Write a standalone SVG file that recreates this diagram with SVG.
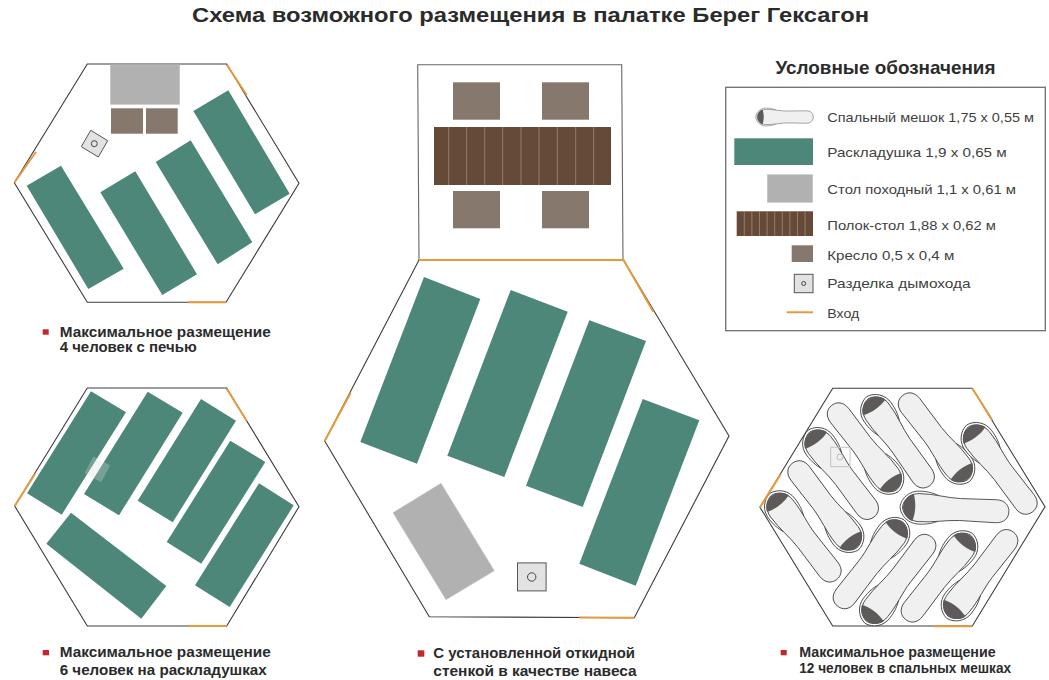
<svg xmlns="http://www.w3.org/2000/svg" xmlns:xlink="http://www.w3.org/1999/xlink" width="1049" height="680" viewBox="0 0 1049 680">
<style>
text{font-family:"Liberation Sans",Arial,sans-serif}
.title{font-size:21px;font-weight:700;fill:#2b2b2b}
.lt{font-size:19px;font-weight:700;fill:#2b2b2b}
.cap{font-size:14px;font-weight:700;fill:#2b2b2b}
.leg{font-size:13.5px;fill:#3f3f3f}
.hex{fill:#fff;stroke:#3c3c3c;stroke-width:1.1}
.door{fill:none;stroke:#e69a3c;stroke-width:2}
.cot{fill:#4c8779}
.tbl{fill:#b0b1b0;stroke:#c4c4c4;stroke-width:.6}
.ch{fill:#86786d}
.pol{fill:#664a38}
.sl{stroke:#b39d8c;stroke-width:.6}
.fl{fill:#e2e2e2;stroke:#555;stroke-width:1}
.flc{fill:none;stroke:#444;stroke-width:1}
.bul{fill:#c1272d}
.bg{fill:#f0f0f0;stroke:#333;stroke-width:.8}
.rim{fill:#fff;stroke:#333;stroke-width:.8}
.hd{fill:#5d5a59}
</style>
<defs>
<g id="bag">
<path class="rim" d="M0,0C1,-9 9,-16.5 19,-16.5C28,-16.5 33,-15 38,-13L38,13C33,15 28,16.5 19,16.5C9,16.5 1,9 0,0Z"/>
<path class="bg" d="M2.5,0C3,-7 10,-14 19,-14C34,-14.5 46,-11 60,-11L96,-11.5C105,-11.5 109,-6 109,0C109,6 105,11.5 96,11.5L60,11C46,11 34,14.5 19,14C10,14 3,7 2.5,0Z"/>
<path class="hd" d="M13,-13.7C7,-12 3,-6 3,0C3,6 7,12 13,13.7C16,5 16,-5 13,-13.7Z"/>
</g>
</defs>
<rect width="1049" height="680" fill="#fff"/>
<text class="title" x="192" y="22" textLength="677" lengthAdjust="spacingAndGlyphs">Схема возможного размещения в палатке Берег Гексагон</text>

<g id="tent-4-stove">
<polygon class="hex" points="87.3,64 226.7,64 299,183.3 226,302.3 87.3,302.3 14.3,182.7"/>
<rect class="tbl" x="110.3" y="65" width="69.4" height="39.3"/>
<rect class="ch" x="111" y="108.3" width="32" height="25.4"/>
<rect class="ch" x="146" y="108.3" width="31.7" height="25.4"/>
<polygon class="fl" points="90.7,130.3 107.7,140.7 98.3,157 81.3,146.7"/>
<circle class="flc" cx="94.3" cy="143.7" r="3"/>
<polygon class="cot" points="61,165.7 123.7,268.7 88.3,289 26.7,185.7"/>
<polygon class="cot" points="135.3,171.3 197,274.3 162.3,295 100.3,192.3"/>
<polygon class="cot" points="190.7,140.3 252.3,242.3 217.7,264.3 155.7,162"/>
<polygon class="cot" points="228.3,90.3 289.7,193.7 255,214.3 193.3,111"/>
<path class="door" d="M226.7,64.7L246.7,95M14.3,182.7L36,151.7M188.3,302.3H226"/>
<rect class="bul" x="42.7" y="329.3" width="6" height="5.4"/>
<text class="cap" x="59.7" y="336.7" textLength="211" lengthAdjust="spacingAndGlyphs">Максимальное размещение</text>
<text class="cap" x="59.7" y="351.7" textLength="137" lengthAdjust="spacingAndGlyphs">4 человек с печью</text>
</g>

<g id="tent-6-cots">
<polygon class="hex" points="87.3,388 226.7,388 299,506.7 226.7,626 87.3,626 14.7,506"/>
<polygon class="cot" points="91,391.3 126,412.3 61.7,514.7 27,493.3"/>
<polygon class="cot" points="147.7,391.7 182.7,412.7 119,515.3 84,494"/>
<polygon class="cot" points="201,399 236,420.7 172.7,522.3 137.7,500.7"/>
<polygon class="cot" points="230.3,440.7 265.3,462 201.3,563.7 166.7,542"/>
<polygon class="cot" points="259,483.3 293.7,505.3 229.7,607 195,585.3"/>
<polygon class="cot" points="71,512.7 166.3,586 141.3,618.7 46.3,543.7"/>
<g transform="translate(97.3,469.3) rotate(28)" opacity=".3"><rect x="-9" y="-9" width="18" height="18" fill="#d8d8d8" stroke="#eee" stroke-width=".8"/><circle r="3" fill="none" stroke="#eee"/></g>
<path class="door" d="M226.7,388.7L246.7,420.7M14.7,506L35,474M188.3,626H226.7"/>
<rect class="bul" x="42.7" y="650" width="6.3" height="5.3"/>
<text class="cap" x="59.7" y="657.3" textLength="211" lengthAdjust="spacingAndGlyphs">Максимальное размещение</text>
<text class="cap" x="59.7" y="675" textLength="207" lengthAdjust="spacingAndGlyphs">6 человек на раскладушках</text>
</g>

<g id="tent-awning">
<polygon class="hex" points="417.7,64.7 621.7,64.7 623,260 419,260" style="stroke:#666"/>
<polygon class="hex" points="419,260 623.5,260 729,436 634.3,617.7 429.3,616.7 324.7,441"/>
<rect class="ch" x="453" y="82.3" width="47" height="37.4"/>
<rect class="ch" x="542" y="82.3" width="47" height="37.4"/>
<rect class="ch" x="453" y="191" width="47" height="37.3"/>
<rect class="ch" x="542" y="191" width="47" height="37.3"/>
<rect class="pol" x="434" y="127" width="177" height="58"/>
<path class="sl" d="M448.7,127V185M466.7,127V185M484.7,127V185M502.7,127V185M521,127V185M539,127V185M557.3,127V185M575.7,127V185M593.7,127V185"/>
<polygon class="cot" points="424,277 480.3,299 417,463.7 360.3,442"/>
<polygon class="cot" points="510.7,290 567.7,311.7 504.3,477 447.3,455.7"/>
<polygon class="cot" points="589.3,320.3 646,341 582.7,507 526,485.7"/>
<polygon class="cot" points="642.7,399 699.3,420.3 635.7,585.7 579.3,563.7"/>
<polygon class="tbl" points="441,483.3 494.3,570.7 446,599.7 393,512.7"/>
<rect class="fl" x="517.5" y="562.9" width="28.6" height="28"/>
<circle class="flc" cx="531.7" cy="577" r="4.2"/>
<path class="door" d="M419,260H623.5L653.3,311.7M324.7,441L350.7,392.7M579.3,617.4L634.3,617.7"/>
<rect class="bul" x="417.7" y="650.3" width="6.6" height="6.4"/>
<text class="cap" x="433.3" y="658.3" textLength="201.7" lengthAdjust="spacingAndGlyphs">С установленной откидной</text>
<text class="cap" x="433.3" y="675.7" textLength="203.4" lengthAdjust="spacingAndGlyphs">стенкой в качестве навеса</text>
</g>

<g id="tent-12-bags">
<polygon class="hex" points="832.7,388.3 972.3,388.3 1045,506.7 972.3,626 832.7,626 760,507.3"/>
<use href="#bag" transform="translate(866.7,396.7) rotate(54.8)"/>
<use href="#bag" transform="translate(969.3,481.7) rotate(-127.6)"/>
<use href="#bag" transform="translate(898.3,491.7) rotate(-127.6)"/>
<use href="#bag" transform="translate(808.3,430) rotate(53)"/>
<use href="#bag" transform="translate(858.3,550) rotate(-127.2)"/>
<use href="#bag" transform="translate(770,493.3) rotate(52.3)"/>
<use href="#bag" transform="translate(966.7,425) rotate(52.8)"/>
<use href="#bag" transform="translate(900,506.7) rotate(2.7)"/>
<use href="#bag" transform="translate(904.3,520) rotate(127.7)"/>
<use href="#bag" transform="translate(865,623.3) rotate(-52.5)"/>
<use href="#bag" transform="translate(972.3,533.3) rotate(127.7)"/>
<use href="#bag" transform="translate(946.7,618.3) rotate(-52.3)"/>
<rect x="830.7" y="447.3" width="19.3" height="19.4" fill="none" stroke="#c4c4c4"/>
<circle cx="840" cy="457" r="3" fill="none" stroke="#bbb"/>
<path class="door" d="M972.3,388.3L992.3,420M760,507.3L780.7,474.3M934.3,626.3H972.3"/>
<rect class="bul" x="780.7" y="650" width="6" height="5.3"/>
<text class="cap" x="799.3" y="657.3" textLength="196.4" lengthAdjust="spacingAndGlyphs">Максимальное размещение</text>
<text class="cap" x="799.3" y="673.3" textLength="211.7" lengthAdjust="spacingAndGlyphs">12 человек в спальных мешках</text>
</g>

<g id="legend">
<text class="lt" x="775.5" y="74" textLength="220" lengthAdjust="spacingAndGlyphs">Условные обозначения</text>
<rect x="725.7" y="87.3" width="319.6" height="243.4" fill="#fff" stroke="#6f6f6f" stroke-width="1.3"/>
<g id="legend-bag">
<use href="#bag" transform="translate(755.7,117) scale(.528,.54)"/>
<text class="leg" x="827.3" y="121.7" textLength="206.7" lengthAdjust="spacingAndGlyphs">Спальный мешок 1,75 x 0,55 м</text>
</g>
<g id="legend-cot">
<rect class="cot" x="734.3" y="138.3" width="78.7" height="26.7"/>
<text class="leg" x="827.3" y="156.7" textLength="179.4" lengthAdjust="spacingAndGlyphs">Раскладушка 1,9 x 0,65 м</text>
</g>
<g id="legend-table">
<rect class="tbl" x="767.3" y="174.7" width="45.4" height="27.6"/>
<text class="leg" x="827.3" y="194" textLength="188.7" lengthAdjust="spacingAndGlyphs">Стол походный 1,1 x 0,61 м</text>
</g>
<g id="legend-polok">
<rect class="pol" x="736.7" y="211.3" width="76.3" height="24.7"/>
<path class="sl" d="M744.3,211.3V236M751.9,211.3V236M759.5,211.3V236M767.1,211.3V236M774.7,211.3V236M782.3,211.3V236M789.9,211.3V236M797.5,211.3V236M805.1,211.3V236"/>
<text class="leg" x="827.3" y="230" textLength="168.7" lengthAdjust="spacingAndGlyphs">Полок-стол 1,88 x 0,62 м</text>
</g>
<g id="legend-chair">
<rect class="ch" x="791.7" y="245.3" width="21.3" height="16.7"/>
<text class="leg" x="827.3" y="260" textLength="127" lengthAdjust="spacingAndGlyphs">Кресло 0,5 x 0,4 м</text>
</g>
<g id="legend-flue">
<rect class="fl" x="794.3" y="274.3" width="18.7" height="18.4"/>
<circle class="flc" cx="803.7" cy="283.5" r="2"/>
<text class="leg" x="827.3" y="288" textLength="143.4" lengthAdjust="spacingAndGlyphs">Разделка дымохода</text>
</g>
<g id="legend-door">
<path class="door" d="M786.7,312.3H813"/>
<text class="leg" x="827.3" y="317.7" textLength="32" lengthAdjust="spacingAndGlyphs">Вход</text>
</g>
</g>
</svg>
